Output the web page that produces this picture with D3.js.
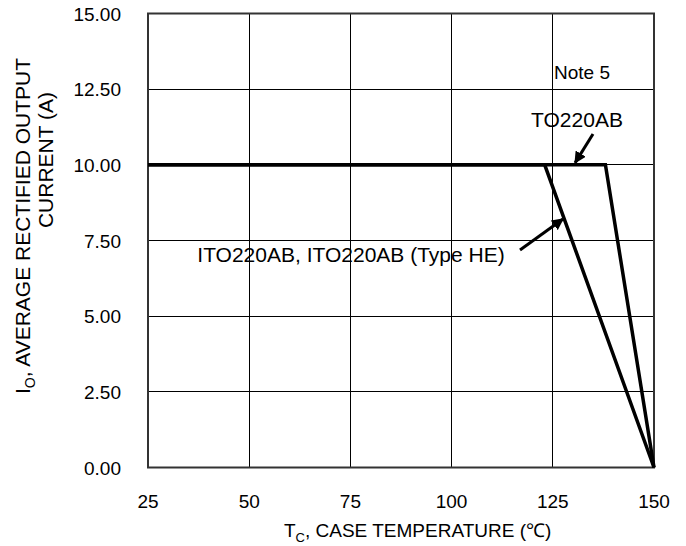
<!DOCTYPE html>
<html><head><meta charset="utf-8">
<script src="https://cdn.jsdelivr.net/npm/d3@7"></script>
<style>body{margin:0;background:#fff}svg{display:block}text{font-family:"Liberation Sans",Arial,sans-serif;fill:#000}</style>
</head><body><svg width="686" height="546"></svg>
<script>
const xTicks = [25, 50, 75, 100, 125, 150];
const yTicks = [0, 2.5, 5, 7.5, 10, 12.5, 15];
const ito = [[25, 10], [123, 10], [150, 0]];
const to220 = [[25, 10], [138, 10], [150, 0]];

const svg = d3.select("svg");
const L = 148, R = 654, T = 13.5, B = 467.5;
const x = d3.scaleLinear().domain([25, 150]).range([L, R]);
const y = d3.scaleLinear().domain([0, 15]).range([B, T]);

// grid
svg.append("g").selectAll("line").data(xTicks.slice(1, -1)).join("line")
  .attr("x1", d => x(d)).attr("x2", d => x(d)).attr("y1", T).attr("y2", B)
  .attr("stroke", "#000").attr("stroke-width", 1).attr("shape-rendering", "crispEdges");
svg.append("g").selectAll("line").data(yTicks.slice(1, -1)).join("line")
  .attr("x1", L).attr("x2", R).attr("y1", d => y(d)).attr("y2", d => y(d))
  .attr("stroke", "#000").attr("stroke-width", 1).attr("shape-rendering", "crispEdges");
// frame
svg.append("rect").attr("x", L).attr("y", T).attr("width", R - L).attr("height", B - T)
  .attr("fill", "none").attr("stroke", "#333").attr("stroke-width", 2);

// tick labels
svg.append("g").selectAll("text").data(xTicks).join("text")
  .attr("x", d => x(d)).attr("y", 508).attr("text-anchor", "middle")
  .attr("font-size", 19).text(d => d);
svg.append("g").selectAll("text").data(yTicks).join("text")
  .attr("x", 121).attr("y", d => y(d) + 7).attr("text-anchor", "end")
  .attr("font-size", 19).text(d => d.toFixed(2));

// curves
const line = d3.line().x(d => x(d[0])).y(d => y(d[1]));
[ito, to220].forEach(s => svg.append("path").attr("d", line(s))
  .attr("fill", "none").attr("stroke", "#000").attr("stroke-width", 3.5).attr("stroke-linejoin", "miter"));

// arrows
svg.append("defs").append("marker").attr("id", "ah").attr("viewBox", "0 0 10 10")
  .attr("refX", 9).attr("refY", 5).attr("markerWidth", 4).attr("markerHeight", 4)
  .attr("orient", "auto").attr("markerUnits", "strokeWidth")
  .append("path").attr("d", "M0,0 L10,5 L0,10 z").attr("fill", "#000");
svg.append("line").attr("x1", 593).attr("y1", 134).attr("x2", x(130.5)).attr("y2", y(10) - 2)
  .attr("stroke", "#000").attr("stroke-width", 3).attr("marker-end", "url(#ah)");
svg.append("line").attr("x1", 520).attr("y1", 250).attr("x2", 563).attr("y2", 219)
  .attr("stroke", "#000").attr("stroke-width", 3).attr("marker-end", "url(#ah)");

// annotations
svg.append("text").attr("x", 582).attr("y", 79).attr("text-anchor", "middle").attr("font-size", 19).text("Note 5");
svg.append("text").attr("x", 577).attr("y", 127).attr("text-anchor", "middle").attr("font-size", 21).text("TO220AB");
svg.append("text").attr("x", 351).attr("y", 262).attr("text-anchor", "middle").attr("font-size", 21).text("ITO220AB, ITO220AB (Type HE)");

// axis titles
const xt = svg.append("text").attr("x", 284).attr("y", 537).attr("text-anchor", "start").attr("font-size", 19);
xt.append("tspan").text("T");
xt.append("tspan").attr("font-size", 13).attr("dy", 5).text("C");
xt.append("tspan").attr("dy", -5).text(", CASE TEMPERATURE (℃)");

const yt = svg.append("text").attr("transform", "translate(30,226) rotate(-90)").attr("text-anchor", "middle").attr("font-size", 21);
yt.append("tspan").text("I");
yt.append("tspan").attr("font-size", 14).attr("dy", 5).text("O");
yt.append("tspan").attr("dy", -5).text(", AVERAGE RECTIFIED OUTPUT");
svg.append("text").attr("transform", "translate(53,160) rotate(-90)").attr("text-anchor", "middle").attr("font-size", 21).text("CURRENT (A)");
</script></body></html>
